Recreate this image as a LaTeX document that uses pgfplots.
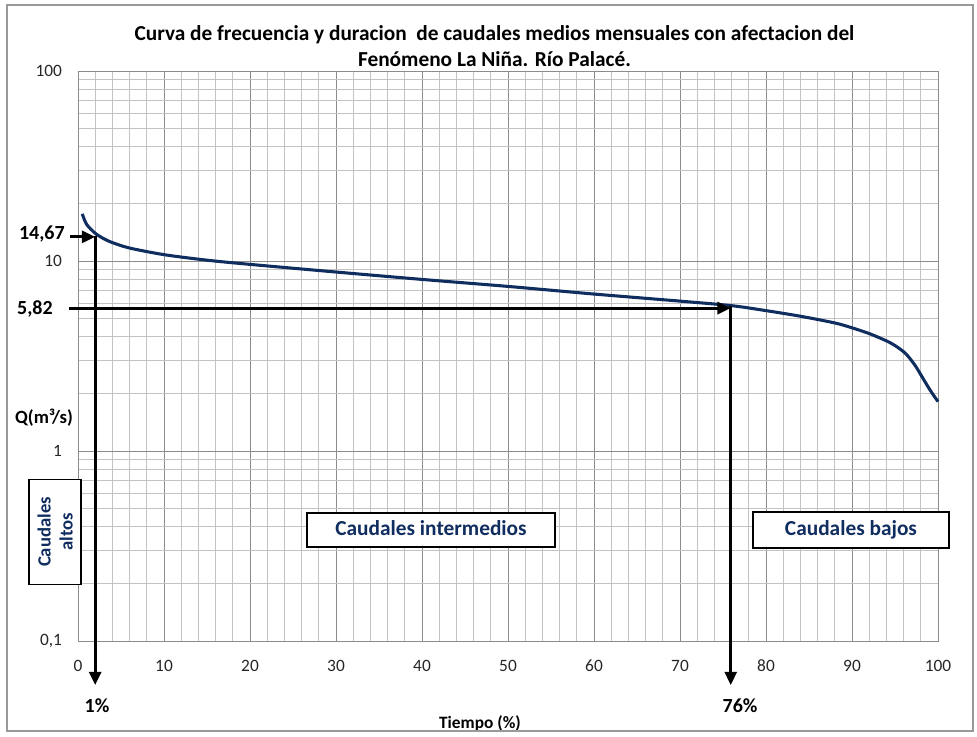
\documentclass[border=0pt]{standalone}
\usepackage{pgfplots}
\pgfplotsset{compat=1.18}
\usepackage{fontspec}
\setmainfont{Carlito}
\usetikzlibrary{arrows.meta}
\definecolor{navy}{RGB}{16,45,95}
\definecolor{gridmin}{RGB}{195,195,195}
\definecolor{gridmaj}{RGB}{140,140,140}
\begin{document}
\begin{tikzpicture}
\begin{axis}[
    at={(0,0)}, anchor=south west,
    scale only axis,
    width=645pt, height=427.5pt,
    xmin=0, xmax=100,
    ymode=log, ymin=0.1, ymax=100,
    xtick={0,10,...,100},
    ytick={0.1,1,10,100},
    yticklabels={{0,1},1,10,100},
    minor x tick num=4,
    grid=both,
    major grid style={gridmaj, line width=0.6pt},
    minor grid style={gridmin, line width=0.6pt},
    axis line style={gridmaj},
    major tick length=0pt, minor tick length=0pt,
    tick label style={font=\fontsize{13}{15}\selectfont, text=black!85},
    xticklabel style={text height=9pt, text depth=0pt, yshift=-10pt},
    yticklabel style={xshift=-8.5pt},
    /pgf/number format/assume math mode=true,
    clip=false,
]
\addplot[navy, line width=2.3pt, smooth, tension=0.5] coordinates {
    (0.5,17.7) (1,15.6) (2,14.0) (3,13.1) (4,12.5) (6,11.7) (10,10.8)
    (15,10.1) (20,9.6) (30,8.75) (40,8.0) (50,7.35) (60,6.7) (70,6.15)
    (76,5.82) (80,5.48) (84,5.12) (88,4.72) (90,4.45) (92,4.15) (94,3.8)
    (95,3.59) (96,3.33) (96.5,3.16) (97,2.96) (97.5,2.75) (98,2.52)
    (98.5,2.31) (99,2.12) (99.5,1.96) (100,1.82)
};
% annotation arrows
\draw[black, line width=2.2pt, -{Triangle[length=10pt,width=9pt]}] (axis cs:-0.93,13.4) -- (axis cs:2,13.4);
\draw[black, line width=2.2pt, -{Triangle[length=10pt,width=9pt]}] (axis cs:2,13.6) -- (axis cs:2,0.0586);
\draw[black, line width=2.2pt, -{Triangle[length=10pt,width=9pt]}] (axis cs:-1.05,5.65) -- (axis cs:75.9,5.65);
\draw[black, line width=2.2pt, -{Triangle[length=10pt,width=9pt]}] (axis cs:75.9,5.82) -- (axis cs:75.9,0.0586);
% texts
\node[font=\bfseries\fontsize{16}{19.5}\selectfont, align=center] at (rel axis cs:0.4843,1.0439)
    {Curva de frecuencia y duracion\ \ de caudales medios mensuales con afectacion del\\Fenómeno La Niña. Río Palacé.};
\node[font=\bfseries\fontsize{15}{17}\selectfont, anchor=east, inner sep=0pt] at (rel axis cs:-0.0151,0.714) {14,67};
\node[font=\bfseries\fontsize{15}{17}\selectfont, anchor=east, inner sep=0pt] at (rel axis cs:-0.0291,0.5825) {5,82};
\node[font=\bfseries\fontsize{14}{16}\selectfont] at (rel axis cs:-0.0395,0.391) {Q(m³/s)};
\node[font=\bfseries\fontsize{15}{17}\selectfont] at (rel axis cs:0.0221,-0.114) {1\%};
\node[font=\bfseries\fontsize{15}{17}\selectfont] at (rel axis cs:0.7698,-0.114) {76\%};
\node[font=\bfseries\fontsize{13}{15}\selectfont] at (rel axis cs:0.4674,-0.145) {Tiempo (\%)};
\node[draw=black, line width=1.3pt, fill=white, text=navy, rotate=90, align=center,
      minimum width=78.75pt, minimum height=39pt, inner sep=1pt,
      font=\bfseries\fontsize{14}{16.5}\selectfont] at (rel axis cs:-0.0267,0.1912) {Caudales\\altos};
\node[draw=black, line width=1.3pt, fill=white, text=navy,
      minimum width=186pt, minimum height=26pt, text height=11pt, text depth=3.5pt,
      font=\bfseries\fontsize{16}{18}\selectfont] at (rel axis cs:0.4105,0.1947) {Caudales intermedios};
\node[draw=black, line width=1.3pt, fill=white, text=navy,
      minimum width=147pt, minimum height=27pt, text height=11pt, text depth=3.5pt,
      font=\bfseries\fontsize{16}{18}\selectfont] at (rel axis cs:0.8988,0.1947) {Caudales bajos};
\end{axis}
\begin{scope}[x=0.75pt, y=-0.75pt, shift={(-78,-641)}]
\draw[gray!80, line width=1.2pt] (7,5) rectangle (973,731);
\pgfresetboundingbox
\path[use as bounding box] (0,0) rectangle (977,736);
\end{scope}
\end{tikzpicture}
\end{document}
